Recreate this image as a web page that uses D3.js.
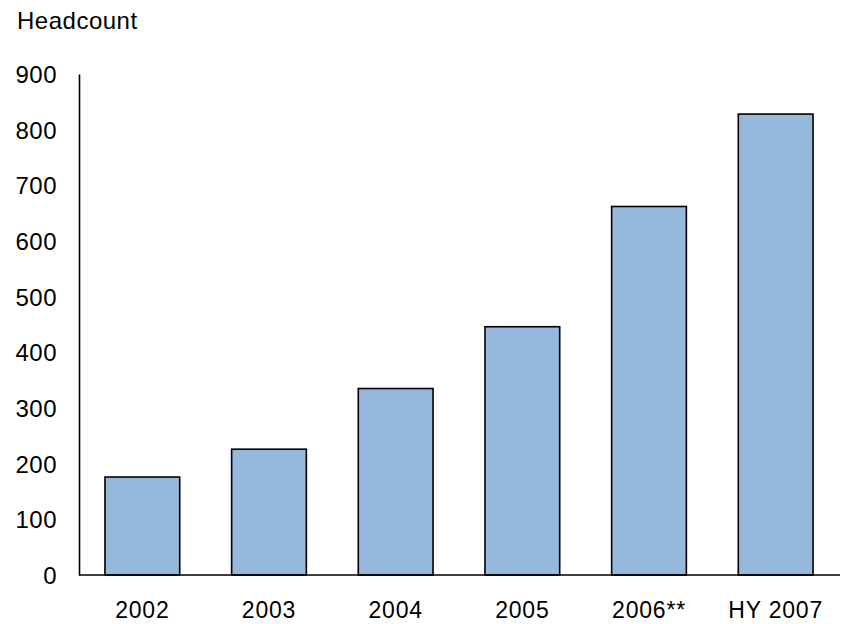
<!DOCTYPE html>
<html>
<head>
<meta charset="utf-8">
<script src="https://cdn.jsdelivr.net/npm/d3@7"></script>
<style>
  body { margin: 0; background: #fff; }
  svg text { font-family: "Liberation Sans", Arial, sans-serif; fill: #000; letter-spacing: 0.5px; }
</style>
</head>
<body>
<svg id="chart" width="842" height="624"></svg>
<script>
// Chart data
var categories = ["2002", "2003", "2004", "2005", "2006**", "HY 2007"];
var headcount = [176, 226, 335, 446, 662, 828];
var yTicks = [0, 100, 200, 300, 400, 500, 600, 700, 800, 900];
var yTitle = "Headcount";

var svg = d3.select("#chart");
var g = svg.append("g");

// Scales
var x = d3.scaleBand()
  .domain(categories)
  .range([79, 839])
  .paddingInner(0.41)
  .paddingOuter(0.205);

var y = d3.scaleLinear()
  .domain([0, 900])
  .range([575, 74]);

// Bars
g.selectAll(".bar")
  .data(headcount)
  .enter()
  .append("rect")
  .attr("class", "bar")
  .attr("x", (d, i) => x(categories[i]))
  .attr("y", d => y(d))
  .attr("width", x.bandwidth())
  .attr("height", d => y(0) - y(d))
  .attr("fill", "#95b8dc")
  .attr("stroke", "#000")
  .attr("stroke-width", 1.6);

// y-axis: line with labels, no tick marks
var yAxis = g.append("g")
  .attr("transform", "translate(79,0)")
  .call(d3.axisLeft(y)
    .tickValues(yTicks)
    .tickSize(0)
    .tickPadding(22)
    .tickFormat(d3.format("d")));
yAxis.select(".domain").attr("stroke", "#000").attr("stroke-width", 1.6);
yAxis.selectAll("text")
  .style("font-size", "24px")
  .attr("dy", "0.35em");

// x-axis: baseline with category labels
var xAxis = g.append("g")
  .attr("transform", "translate(0,575)")
  .call(d3.axisBottom(x).tickSize(0).tickPadding(27));
xAxis.select(".domain")
  .attr("d", "M79,0H840")
  .attr("stroke", "#000")
  .attr("stroke-width", 1.6);
xAxis.selectAll("text")
  .style("font-size", "23px")
  .style("letter-spacing", "0.8px");

// Title above the y-axis
g.append("text")
  .attr("x", 17)
  .attr("y", 29)
  .style("font-size", "24px")
  .text(yTitle);
</script>
</body>
</html>
